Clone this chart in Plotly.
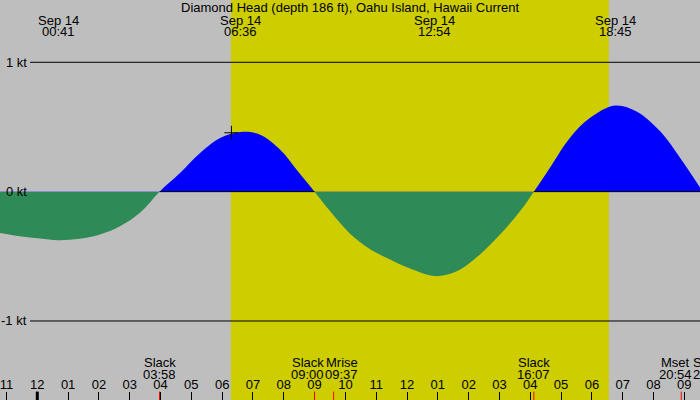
import plotly.graph_objects as go
from datetime import datetime

# ---------------- data ----------------
title_text = "Diamond Head (depth 186 ft), Oahu Island, Hawaii Current"

curve_times = [
    "2024-09-13 22:47", "2024-09-13 23:26", "2024-09-14 00:05", "2024-09-14 00:41",
    "2024-09-14 01:23", "2024-09-14 02:02", "2024-09-14 02:41", "2024-09-14 03:20",
    "2024-09-14 03:58", "2024-09-14 04:38", "2024-09-14 05:17", "2024-09-14 05:56",
    "2024-09-14 06:36", "2024-09-14 07:14", "2024-09-14 07:53", "2024-09-14 08:25",
    "2024-09-14 09:00", "2024-09-14 09:30", "2024-09-14 10:09", "2024-09-14 10:48",
    "2024-09-14 11:27", "2024-09-14 12:06", "2024-09-14 12:54", "2024-09-14 13:37",
    "2024-09-14 14:22", "2024-09-14 15:01", "2024-09-14 15:40", "2024-09-14 16:07",
    "2024-09-14 16:38", "2024-09-14 17:17", "2024-09-14 17:56", "2024-09-14 18:45",
    "2024-09-14 19:27", "2024-09-14 20:13", "2024-09-14 20:52", "2024-09-14 21:31",
]
speed_kt = [
    -0.319, -0.345, -0.363, -0.376,
    -0.365, -0.332, -0.268, -0.164,
    0.0, 0.144, 0.299, 0.415,
    0.461, 0.440, 0.324, 0.170,
    0.0, -0.150, -0.325, -0.445,
    -0.525, -0.595, -0.653, -0.615,
    -0.486, -0.332, -0.152, 0.0,
    0.183, 0.415, 0.569, 0.666,
    0.620, 0.466, 0.260, 0.029,
]

# times of maximum flood / ebb (labels on top)
extreme_times = ["2024-09-14 00:41", "2024-09-14 06:36", "2024-09-14 12:54", "2024-09-14 18:45"]

# events along the bottom
event_names = ["Slack", "Slack", "Mrise", "Slack", "Mset", "Slack"]
event_times = ["2024-09-14 03:58", "2024-09-14 09:00", "2024-09-14 09:37",
               "2024-09-14 16:07", "2024-09-14 20:54", "2024-09-14 21:37"]

sunrise = "2024-09-14 06:17"
sunset = "2024-09-14 18:33"
midnight = "2024-09-14 00:00"
now_time = "2024-09-14 06:18"
now_speed = 0.455

kt_levels = [1, 0, -1]
kt_labels = ["1 kt", "0 kt", "-1 kt"]

x_range = ["2024-09-13 22:47:22", "2024-09-14 21:30:32"]
y_range = [-1.6108, 1.4816]

# ---------------- styling ----------------
FONT = "Liberation Sans, Arial, Helvetica, sans-serif"
GRAY = "#BEBEBE"
YELLOW = "#CDCD00"
GREEN = "#2E8B57"
BLUE = "#0000FF"
label_nudge_px = [0, -7, 8, 0, -6, 6]

zero_on_flood = [0.0 if v >= 0 else None for v in speed_kt]

fig = go.Figure()
# one smooth curve, filled to zero: blue above 0 kt (flood), green below (ebb)
fig.add_trace(go.Scatter(
    x=curve_times, y=speed_kt, mode="lines", fill="tozeroy",
    fillgradient=dict(type="vertical", start=-1, stop=1,
                      colorscale=[[0, GREEN], [0.5, GREEN], [0.5, BLUE], [1, BLUE]]),
    line=dict(width=0, shape="spline", smoothing=1.0, color="rgba(0,0,0,0)"),
    hoverinfo="skip", showlegend=False))
fig.add_trace(go.Scatter(x=curve_times, y=zero_on_flood, mode="lines",
                         line=dict(width=1, color="black"), connectgaps=False,
                         hoverinfo="skip", showlegend=False))
fig.add_trace(go.Scatter(x=[now_time], y=[now_speed], mode="markers",
                         marker=dict(symbol="cross-thin", size=10,
                                     line=dict(width=1, color="black")),
                         hoverinfo="skip", showlegend=False))

shapes = [dict(type="rect", xref="x", yref="paper", x0=sunrise, x1=sunset, y0=0, y1=1,
               fillcolor=YELLOW, line=dict(width=0), layer="below")]
for lv in kt_levels:
    if lv != 0:
        shapes.append(dict(type="line", xref="paper", yref="y", x0=30 / 700, x1=1,
                           y0=lv, y1=lv, line=dict(color="black", width=1), layer="below"))
for t in event_times:
    shapes.append(dict(type="line", xref="x", yref="paper", x0=t, x1=t, y0=0, y1=0.021,
                       line=dict(color="red", width=1), layer="above"))
shapes.append(dict(type="line", xref="x", yref="paper", x0=midnight, x1=midnight,
                   y0=0, y1=0.021, line=dict(color="black", width=3), layer="above"))

annos = [dict(text=title_text, xref="paper", yref="paper", x=0.5, y=1 - 7.5 / 400,
              showarrow=False, xanchor="center", yanchor="middle")]
for t in extreme_times:
    dt = datetime.strptime(t, "%Y-%m-%d %H:%M")
    annos.append(dict(text=dt.strftime("%b %d"), xref="x", yref="paper", x=t, y=1 - 20 / 400,
                      showarrow=False, xanchor="center", yanchor="middle"))
    annos.append(dict(text=dt.strftime("%H:%M"), xref="x", yref="paper", x=t, y=1 - 32 / 400,
                      showarrow=False, xanchor="center", yanchor="middle"))

t0 = datetime.strptime(x_range[0], "%Y-%m-%d %H:%M:%S")
t1 = datetime.strptime(x_range[1], "%Y-%m-%d %H:%M:%S")
for name, t, dx in zip(event_names, event_times, label_nudge_px):
    dt = datetime.strptime(t, "%Y-%m-%d %H:%M")
    if t0 <= dt <= t1:
        xr, xv = "x", t
    else:
        xr, xv = "paper", (dt - t0) / (t1 - t0)
    annos.append(dict(text=name, xref=xr, yref="paper", x=xv, y=1 - 362 / 400, xshift=dx,
                      showarrow=False, xanchor="center", yanchor="middle"))
    annos.append(dict(text=dt.strftime("%H:%M"), xref=xr, yref="paper", x=xv, y=1 - 374 / 400,
                      xshift=dx, showarrow=False, xanchor="center", yanchor="middle"))

for lv, lab in zip(kt_levels, kt_labels):
    annos.append(dict(text=lab, xref="paper", yref="y", x=29 / 700, y=lv,
                      showarrow=False, xanchor="right", yanchor="middle"))

fig.update_layout(
    width=700, height=400,
    margin=dict(l=0, r=0, t=0, b=0, pad=0),
    paper_bgcolor=GRAY, plot_bgcolor=GRAY,
    font=dict(family=FONT, size=13, color="black"),
    shapes=shapes, annotations=annos,
    showlegend=False,
    xaxis=dict(type="date", range=x_range, tick0=midnight, dtick=3600000, tickformat="%I",
               ticks="inside", ticklen=8, tickwidth=1, tickcolor="black",
               ticklabelposition="inside", ticklabeloverflow="allow",
               tickfont=dict(family=FONT, size=13, color="black"),
               showgrid=False, zeroline=False, showline=False, fixedrange=True),
    yaxis=dict(range=y_range, visible=False, showgrid=False, zeroline=False, fixedrange=True),
)

fig.write_html("out.html", config={"displayModeBar": False},
               post_script="document.body.style.margin='0';document.body.style.padding='0';")
